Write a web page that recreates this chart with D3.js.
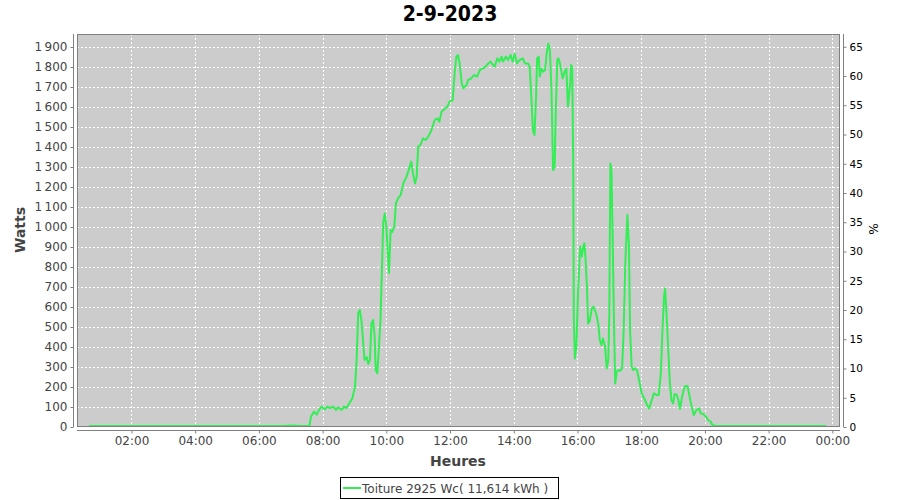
<!DOCTYPE html>
<html><head><meta charset="utf-8">
<script src="https://cdn.jsdelivr.net/npm/d3@7/dist/d3.min.js"></script>
<style>body{margin:0;background:#fff}svg{display:block}</style></head>
<body><svg id="c" width="900" height="500"></svg>
<script>
const title = "2-9-2023";
const legendLabel = "Toiture 2925 Wc( 11,614 kWh )";
const peakPower = 2925;
const times = ["0:40","1:30","2:30","3:30","4:30","5:30","6:30","6:48","6:55","7:05","7:15","7:25","7:35",
"7:38","7:44","7:49","7:53","7:58","8:04","8:09","8:14","8:20","8:25","8:29","8:36","8:40","8:45","8:51","8:56",
"9:01","9:04","9:07","9:10","9:13","9:16","9:19","9:23","9:26","9:29","9:32","9:35","9:38","9:40","9:43","9:46","9:49","9:52","9:54","9:57",
"10:00","10:03","10:05","10:08","10:11","10:15","10:18","10:22","10:27","10:32","10:38","10:44","10:47","10:50","10:54","10:57",
"11:00","11:04","11:09","11:14","11:19","11:25","11:31","11:36","11:40","11:44","11:50","11:55","11:59",
"12:05","12:09","12:12","12:15","12:18","12:22","12:25","12:31","12:34","12:40","12:45","12:51","12:56",
"13:02","13:07","13:12","13:16","13:21","13:24","13:29","13:33","13:37","13:40","13:45","13:49","13:54","13:58",
"14:02","14:06","14:11","14:17","14:21","14:27","14:30","14:33","14:36","14:39","14:42","14:44","14:47","14:49","14:52","14:55","14:59",
"15:02","15:05","15:08","15:11","15:14","15:17","15:19","15:22","15:24","15:27","15:32","15:36","15:39","15:42","15:46","15:48","15:50","15:52","15:53","15:55","15:58",
"16:01","16:05","16:08","16:11","16:13","16:15","16:18","16:20","16:23","16:27","16:30","16:35","16:39","16:42","16:45","16:48","16:52","16:55","16:58",
"17:00","17:01","17:02","17:04","17:06","17:09","17:11","17:14","17:17","17:20","17:24","17:27","17:30","17:33","17:34","17:37","17:39","17:42","17:45","17:48","17:52","17:56",
"18:01","18:07","18:11","18:15","18:20","18:24","18:29","18:33","18:37","18:40","18:43","18:45","18:48","18:51","18:54","18:57",
"19:00","19:03","19:07","19:10","19:13","19:17","19:22","19:27","19:30","19:35","19:39","19:44","19:49","19:52","19:57",
"20:02","20:06","20:11","20:14","20:19","20:40","21:00","21:20","21:40","22:00","22:30","23:00","23:48"];
const watts = [0,0,0,0,0,0,0,3,6,8,5,2,0,
51,77,62,85,102,88,102,95,102,85,98,85,102,95,122,143,
202,335,568,585,535,435,335,350,315,335,518,535,450,285,268,400,535,818,1018,1068,
1002,850,770,985,975,1002,1118,1143,1160,1218,1252,1302,1327,1268,1218,1250,
1402,1410,1443,1435,1452,1485,1535,1543,1527,1577,1590,1602,1627,
1635,1785,1852,1860,1818,1718,1693,1710,1735,1743,1760,1752,1785,
1793,1802,1818,1827,1810,1802,1843,1827,1852,1827,1852,1835,1860,1827,
1865,1818,1835,1843,1818,1818,1802,1652,1485,1460,1652,1843,1852,1752,1793,1777,1785,
1868,1918,1885,1685,1285,1302,1568,1835,1843,1818,1743,1777,1793,1602,1710,1810,1800,1320,552,343,402,
668,902,852,902,918,852,685,518,530,593,602,568,518,435,410,443,402,293,335,
568,985,1318,1285,985,485,218,277,285,280,293,485,818,1002,1060,902,485,302,285,293,285,235,
168,135,110,93,135,168,160,160,268,485,652,693,552,385,218,135,
118,165,160,135,90,152,202,205,168,102,60,85,93,68,65,
52,35,27,10,0,3,2,4,2,0,0,0,0];
const yTicks = d3.range(0, 2000, 100);
const pctTicks = d3.range(0, 70, 5);
const xTicks = [2,4,6,8,10,12,14,16,18,20,22,24];
const xTickLabels = ["02:00","04:00","06:00","08:00","10:00","12:00","14:00","16:00","18:00","20:00","22:00","00:00"];

const svg = d3.select("#c");
const L = 77, R = 840, T = 34, B = 427;
const toH = s => { const [h, m] = s.split(":").map(Number); return h + m / 60; };
const x = d3.scaleLinear().domain([0.29, 24.24]).range([L, R]);
const y = d3.scaleLinear().domain([0, 1965]).range([B, T]);
const yp = d3.scaleLinear().domain([0, 1965 / peakPower * 100]).range([B, T]);
const fmt = d => d >= 1000 ? Math.floor(d / 1000) + "\u202F" + String(d % 1000).padStart(3, "0") : String(d);
const font = "'DejaVu Sans', sans-serif";
const grey = "#444";

svg.append("rect").attr("width", 900).attr("height", 500).attr("fill", "#fff");
svg.append("text").attr("x", 450).attr("y", 21).attr("text-anchor", "middle")
  .attr("font-family", "'DejaVu Sans Condensed','Liberation Sans Narrow','DejaVu Sans',sans-serif")
  .attr("font-stretch", "condensed").attr("font-weight", "bold").attr("font-size", 21).attr("fill", "#000").text(title);

svg.append("rect").attr("x", L).attr("y", T).attr("width", R - L).attr("height", B - T).attr("fill", "#cccccc");
const grid = svg.append("g").attr("stroke", "#fff").attr("stroke-width", 1).attr("stroke-dasharray", "2,2");
yTicks.forEach(t => grid.append("line").attr("x1", L).attr("x2", R).attr("y1", Math.round(y(t)) + 0.5).attr("y2", Math.round(y(t)) + 0.5));
xTicks.forEach(t => grid.append("line").attr("y1", T).attr("y2", B).attr("x1", Math.round(x(t)) + 0.5).attr("x2", Math.round(x(t)) + 0.5));

const pts = times.map((t, i) => [toH(t), watts[i]]);
svg.append("path").datum(pts).attr("fill", "none").attr("stroke", "#33ee55").attr("stroke-width", 2)
  .attr("stroke-linejoin", "round")
  .attr("d", d3.line().x(d => x(d[0])).y(d => Math.min(y(d[1]), B - 1)));

svg.append("rect").attr("x", L + 0.5).attr("y", T + 0.5).attr("width", R - L - 1).attr("height", B - T - 1)
  .attr("fill", "none").attr("stroke", "#808080");

// left axis
const la = svg.append("g").attr("transform", "translate(73.5,0)")
  .call(d3.axisLeft(y).tickValues(yTicks).tickFormat(fmt).tickSize(3).tickPadding(3));
la.select(".domain").attr("d", `M0,${T}V${B}`).attr("stroke", "#808080");
la.selectAll(".tick line").attr("stroke", "#808080");
la.selectAll("text").attr("font-family", font).attr("font-size", 12).attr("fill", grey);

// right axis
const ra = svg.append("g").attr("transform", "translate(843.5,0)")
  .call(d3.axisRight(yp).tickValues(pctTicks).tickSize(3).tickPadding(3));
ra.select(".domain").attr("d", `M0,${T}V${B}`).attr("stroke", "#808080");
ra.selectAll(".tick line").attr("stroke", "#808080");
ra.selectAll("text").attr("font-family", font).attr("font-size", 10.5).attr("fill", "#000");

// bottom axis
const ba = svg.append("g").attr("transform", "translate(0,430.5)")
  .call(d3.axisBottom(x).tickValues(xTicks).tickFormat((d, i) => xTickLabels[i]).tickSize(3).tickPadding(3));
ba.select(".domain").attr("d", `M${L},0H${R}`).attr("stroke", "#808080");
ba.selectAll(".tick line").attr("stroke", "#808080");
ba.selectAll("text").attr("font-family", font).attr("font-size", 12).attr("fill", grey);

svg.append("text").attr("transform", "translate(25,230) rotate(-90)").attr("text-anchor", "middle")
  .attr("font-family", font).attr("font-weight", "bold").attr("font-size", 14).attr("fill", grey).text("Watts");
svg.append("text").attr("x", 458).attr("y", 466).attr("text-anchor", "middle")
  .attr("font-family", font).attr("font-weight", "bold").attr("font-size", 14).attr("fill", grey).text("Heures");
svg.append("text").attr("transform", "translate(869,229) rotate(90)").attr("text-anchor", "middle")
  .attr("font-family", font).attr("font-size", 12).attr("fill", "#000").text("%");

// legend
const lg = svg.append("g");
lg.append("rect").attr("x", 340.5).attr("y", 477.5).attr("width", 218).attr("height", 21).attr("fill", "#fff").attr("stroke", "#000");
lg.append("line").attr("x1", 343).attr("x2", 361).attr("y1", 488).attr("y2", 488).attr("stroke", "#33ee55").attr("stroke-width", 2);
lg.append("text").attr("x", 362).attr("y", 492.5).attr("font-family", font).attr("font-size", 12).attr("fill", grey).text(legendLabel);
</script></body></html>
